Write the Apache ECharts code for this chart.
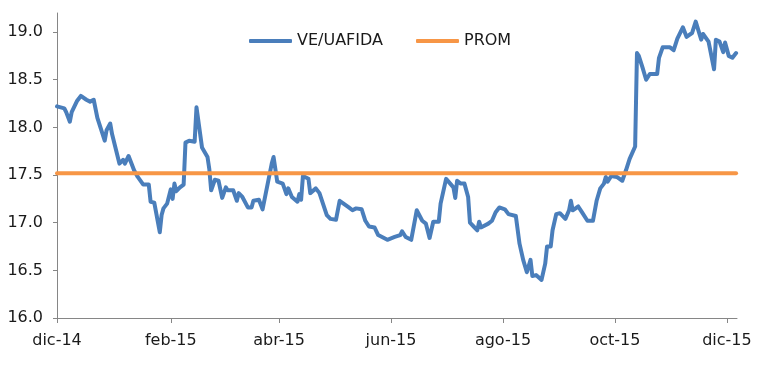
<!DOCTYPE html>
<html><head><meta charset="utf-8">
<script src="https://cdn.jsdelivr.net/npm/echarts@6/dist/echarts.min.js"></script>
<style>html,body{margin:0;padding:0;background:#fff}#c{width:768px;height:377px}</style>
</head><body><div id="c"></div><script>
// Series names
const seriesNames = ['VE/UAFIDA', 'PROM'];
// Day numbers counted from 1-dic-2014
const days = [0,4,5,7,8,11,13,14,16,18,20,21,22,26,27,29,30,34,36,37,39,42,44,47,50,51,53,56,57,58,60,62,63,64,65,67,69,70,72,75,76,78,79,82,83,84,86,88,90,92,93,96,98,99,101,104,106,107,110,112,113,117,118,120,123,125,126,128,131,132,133,134,137,138,141,143,147,149,152,154,155,159,161,163,166,167,168,170,173,175,180,184,187,188,190,193,196,199,201,203,205,208,209,210,212,216,217,218,220,222,224,225,227,229,230,231,235,237,239,241,244,246,250,252,254,256,258,259,261,264,266,267,269,270,272,274,277,279,280,281,284,286,289,292,294,296,298,299,300,302,305,308,310,312,315,316,317,319,321,323,327,328,330,334,336,338,341,343,346,348,351,352,355,358,359,361,363,364,366,368,370];
// VE/UAFIDA values
const veValues = [18.22,18.20,18.16,18.06,18.16,18.28,18.33,18.32,18.29,18.27,18.29,18.28,18.10,17.86,17.97,18.04,17.93,17.62,17.66,17.62,17.70,17.55,17.48,17.40,17.40,17.22,17.21,16.90,17.08,17.15,17.20,17.35,17.25,17.41,17.33,17.37,17.40,17.84,17.86,17.85,18.21,17.93,17.79,17.69,17.56,17.34,17.45,17.44,17.26,17.37,17.34,17.34,17.23,17.31,17.27,17.16,17.16,17.23,17.24,17.14,17.14,17.62,17.69,17.43,17.41,17.30,17.36,17.27,17.22,17.30,17.24,17.49,17.46,17.31,17.36,17.31,17.08,17.04,17.03,17.23,17.24,17.16,17.13,17.15,17.14,17.08,17.02,16.96,16.95,16.87,16.82,16.85,16.87,16.91,16.85,16.82,17.13,17.02,16.99,16.84,17.01,17.01,17.20,17.22,17.46,17.37,17.26,17.44,17.41,17.41,17.27,17.00,16.96,16.92,17.01,16.95,16.99,17.02,17.11,17.16,17.14,17.09,17.07,16.78,16.61,16.48,16.61,16.44,16.45,16.40,16.57,16.75,16.75,16.92,17.09,17.10,17.04,17.13,17.23,17.13,17.17,17.11,17.02,17.02,17.23,17.36,17.41,17.48,17.43,17.49,17.48,17.44,17.55,17.67,17.80,18.78,18.75,18.63,18.50,18.56,18.56,18.73,18.84,18.84,18.81,18.93,19.05,18.95,18.99,19.11,18.92,18.98,18.90,18.61,18.92,18.90,18.79,18.89,18.75,18.73,18.78];
// PROM (average) line: value and its first/last day
const promValue = 17.52;
const promDays = [0, 370];
// X tick positions (day numbers from 1-dic-2014) and labels
const xTickDays = [0, 62, 121, 182, 243, 304, 365];
const xTickLabels = ['dic-14', 'feb-15', 'abr-15', 'jun-15', 'ago-15', 'oct-15', 'dic-15'];
// Y ticks
const yTicks = [16.0, 16.5, 17.0, 17.5, 18.0, 18.5, 19.0];

const font = 'DejaVu Sans, Verdana, sans-serif';
const txt = '#1a1a1a';
const axisGray = '#868686';

const chart = echarts.init(document.getElementById('c'), null, {renderer: 'canvas'});
chart.setOption({
  animation: false,
  backgroundColor: '#fff',
  grid: {left: 57, right: 31, top: 13, bottom: 59},
  legend: {
    left: 244, top: 28,
    icon: 'roundRect', itemWidth: 43, itemHeight: 4, itemGap: 33,
    textStyle: {fontFamily: font, fontSize: 16, color: txt},
    data: seriesNames
  },
  xAxis: {
    type: 'value',
    min: 0, max: 370.5,
    splitLine: {show: false},
    axisLine: {lineStyle: {color: axisGray, width: 1}},
    axisTick: {show: true, length: 5, lineStyle: {color: axisGray}, customValues: xTickDays},
    axisLabel: {
      customValues: xTickDays, margin: 15,
      fontFamily: font, fontSize: 16, color: txt,
      formatter: v => { const i = xTickDays.indexOf(v); return i >= 0 ? xTickLabels[i] : ''; }
    }
  },
  yAxis: {
    type: 'value', min: 16, max: 19.2, interval: 0.5,
    splitLine: {show: false},
    axisLine: {show: true, lineStyle: {color: axisGray, width: 1}},
    axisTick: {show: true, inside: false, length: 4, lineStyle: {color: axisGray}, customValues: yTicks},
    axisLabel: {
      customValues: yTicks, margin: 14,
      fontFamily: font, fontSize: 16, color: txt,
      formatter: v => v.toFixed(1)
    }
  },
  series: [
    {
      name: seriesNames[0], type: 'line', showSymbol: false, symbol: 'none',
      lineStyle: {color: '#4A7EBB', width: 4, join: 'round', cap: 'round'},
      itemStyle: {color: '#4A7EBB'},
      data: days.map((d, i) => [d, veValues[i]])
    },
    {
      name: seriesNames[1], type: 'line', showSymbol: false, symbol: 'none',
      lineStyle: {color: '#F79646', width: 4, cap: 'round'},
      itemStyle: {color: '#F79646'},
      data: promDays.map(d => [d, promValue])
    }
  ]
});
</script></body></html>
